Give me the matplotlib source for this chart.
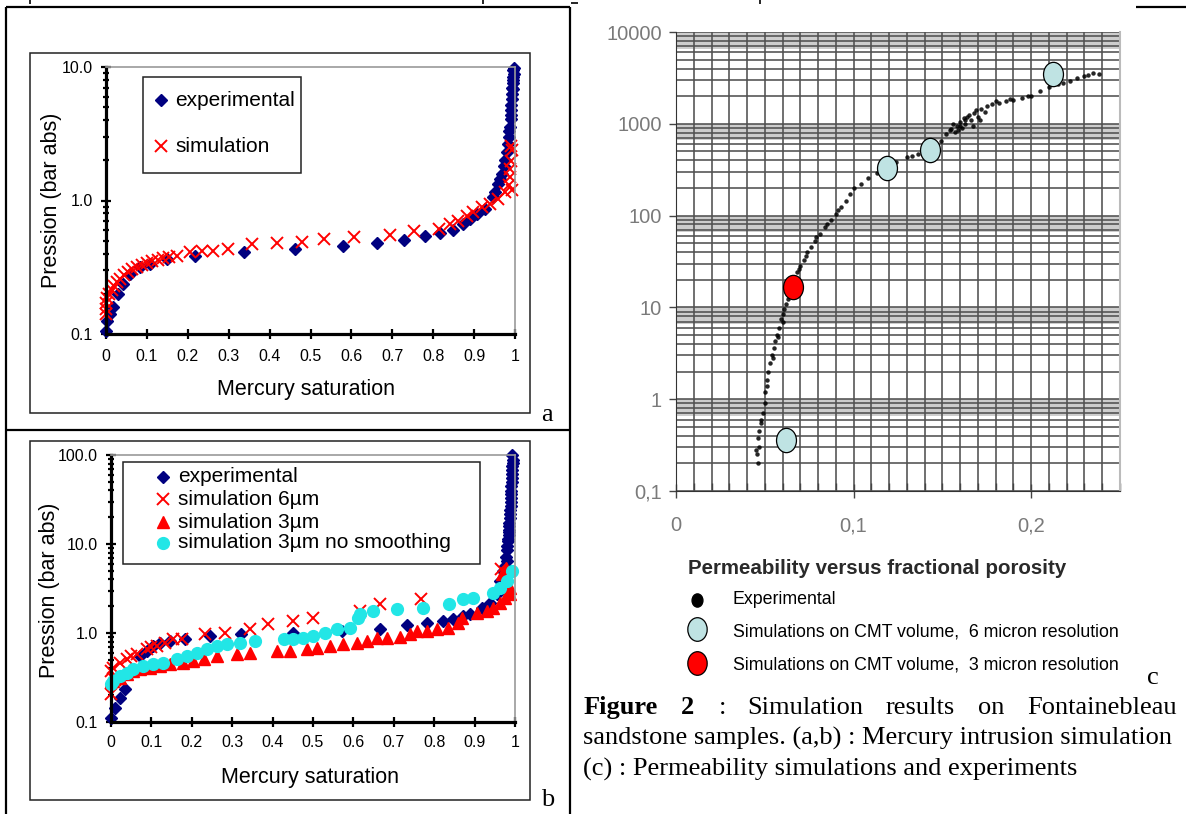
import matplotlib.pyplot as plt
import numpy as np
from matplotlib import font_manager
from matplotlib.lines import Line2D
from matplotlib.patches import Rectangle
from matplotlib.path import Path
from matplotlib.ticker import LogLocator, NullFormatter
from matplotlib.transforms import Affine2D

# ---- (a) mercury intrusion, experiment vs simulation ----
a_exp_sat = [0.0, 0.002, 0.01, 0.018, 0.03, 0.042, 0.059, 0.083, 0.108, 0.148,
             0.218, 0.337, 0.463, 0.579, 0.662, 0.729, 0.78, 0.817, 0.848, 0.874,
             0.89, 0.906, 0.927, 0.947, 0.959, 0.968, 0.976, 0.984, 0.985, 0.988,
             0.989, 0.99, 0.991, 0.992, 0.993, 0.994, 0.995, 0.996, 0.997,
             0.952, 0.963, 0.972, 0.98, 0.986, 0.99, 0.993, 0.995, 0.996, 0.997]
a_exp_p = [0.106, 0.126, 0.141, 0.158, 0.2, 0.237, 0.28, 0.316, 0.335, 0.365,
           0.386, 0.409, 0.43, 0.46, 0.478, 0.507, 0.546, 0.569, 0.603, 0.668,
           0.729, 0.794, 0.866, 1.06, 1.33, 1.59, 2.0, 2.66, 3.0, 3.55,
           4.1, 4.73, 5.2, 6.32, 7.0, 8.44, 8.0, 9.46, 9.9,
           1.15, 1.45, 1.8, 2.3, 3.3, 4.4, 5.8, 6.8, 7.6, 8.8]
a_sim_sat = [0.0, 0.0, 0.0, 0.003, 0.008, 0.014, 0.02, 0.027, 0.035, 0.044,
             0.054, 0.064, 0.075, 0.087, 0.1, 0.113, 0.126, 0.14, 0.155, 0.173,
             0.205, 0.234, 0.262, 0.299, 0.356, 0.417, 0.478, 0.533, 0.606, 0.694,
             0.753, 0.813, 0.841, 0.861, 0.882, 0.898, 0.919, 0.939, 0.959, 0.976,
             0.986, 0.988, 0.988, 0.989, 0.992, 0.989, 0.993]
a_sim_p = [0.14, 0.155, 0.17, 0.185, 0.2, 0.215, 0.23, 0.245, 0.26, 0.275,
           0.29, 0.305, 0.318, 0.33, 0.342, 0.352, 0.36, 0.37, 0.375, 0.385,
           0.41, 0.42, 0.42, 0.434, 0.473, 0.478, 0.487, 0.516, 0.53, 0.556,
           0.596, 0.613, 0.668, 0.708, 0.772, 0.817, 0.891, 0.945, 1.03, 1.15,
           1.30, 1.50, 1.73, 1.99, 2.37, 2.58, 1.2]

# ---- (b) mercury intrusion, 6 and 3 micron ----
b_exp_sat = [0.0, 0.01, 0.022, 0.035, 0.05, 0.072, 0.088, 0.104, 0.121, 0.146,
             0.183, 0.245, 0.323, 0.45, 0.571, 0.666, 0.732, 0.781, 0.821, 0.847,
             0.872, 0.889, 0.918, 0.938, 0.955, 0.963, 0.971, 0.979, 0.981, 0.983,
             0.984, 0.985, 0.986, 0.988, 0.989, 0.99, 0.99, 0.991, 0.992, 0.992,
             0.993, 0.994, 0.993, 0.975, 0.978, 0.98, 0.982, 0.984, 0.986, 0.987,
             0.988, 0.99, 0.991, 0.992, 0.993, 0.994]
b_exp_p = [0.112, 0.145, 0.188, 0.235, 0.36, 0.55, 0.63, 0.71, 0.78, 0.81,
           0.85, 0.925, 0.97, 1.0, 1.05, 1.10, 1.23, 1.31, 1.36, 1.42,
           1.55, 1.62, 1.93, 2.19, 2.72, 3.84, 4.97, 6.4, 8.5, 10.8,
           12.5, 14.5, 17, 19.8, 27, 33, 39.3, 45, 50, 60.6,
           75, 88, 100, 5.6, 7.2, 9.5, 11.5, 13.5, 16, 22,
           24, 30, 36, 55, 67, 82]
b_sim6_sat = [0.0, 0.0, 0.005, 0.01, 0.022, 0.039, 0.05, 0.064, 0.088, 0.1,
              0.113, 0.134, 0.154, 0.175, 0.233, 0.282, 0.344, 0.389, 0.45, 0.501,
              0.616, 0.667, 0.767, 0.965]
b_sim6_p = [0.206, 0.374, 0.40, 0.3, 0.464, 0.506, 0.55, 0.576, 0.655, 0.69,
            0.715, 0.778, 0.85, 0.85, 0.967, 1.01, 1.10, 1.25, 1.36, 1.49,
            1.77, 2.10, 2.39, 5.3]
b_sim3_sat = [0.0, 0.005, 0.022, 0.039, 0.055, 0.072, 0.097, 0.121, 0.146, 0.179,
              0.204, 0.229, 0.262, 0.311, 0.344, 0.41, 0.443, 0.484, 0.509, 0.542,
              0.575, 0.608, 0.633, 0.658, 0.682, 0.715, 0.74, 0.757, 0.781, 0.806,
              0.835, 0.86, 0.868, 0.905, 0.93, 0.946, 0.963, 0.975, 0.988, 0.967,
              0.977, 0.988]
b_sim3_p = [0.29, 0.29, 0.315, 0.343, 0.374, 0.39, 0.408, 0.426, 0.445, 0.464,
            0.485, 0.506, 0.551, 0.576, 0.60, 0.627, 0.627, 0.655, 0.684, 0.715,
            0.758, 0.778, 0.813, 0.87, 0.87, 0.90, 0.967, 1.05, 1.05, 1.10,
            1.15, 1.31, 1.49, 1.69, 1.77, 1.93, 2.19, 2.49, 3.23, 4.56,
            5.4, 2.74]
b_sim3ns_sat = [0.0, 0.006, 0.022, 0.039, 0.055, 0.08, 0.105, 0.129, 0.163, 0.187,
                0.212, 0.237, 0.262, 0.286, 0.319, 0.356, 0.427, 0.451, 0.476, 0.501,
                0.53, 0.559, 0.592, 0.612, 0.616, 0.649, 0.709, 0.773, 0.837, 0.872,
                0.897, 0.946, 0.963, 0.979, 0.992]
b_sim3ns_p = [0.265, 0.29, 0.329, 0.358, 0.39, 0.426, 0.445, 0.464, 0.506, 0.551,
              0.60, 0.655, 0.715, 0.758, 0.778, 0.813, 0.85, 0.85, 0.886, 0.925,
              1.01, 1.10, 1.15, 1.49, 1.62, 1.77, 1.85, 1.93, 2.13, 2.39,
              2.49, 2.84, 3.23, 3.84, 5.0]

# ---- (c) permeability vs porosity ----
c_exp_phi = [0.046, 0.045, 0.047, 0.046, 0.047, 0.048, 0.049, 0.05, 0.05, 0.051,
             0.052, 0.053, 0.054, 0.055, 0.056, 0.057, 0.058, 0.059, 0.06, 0.061,
             0.062, 0.063, 0.064, 0.066, 0.068, 0.07, 0.072, 0.074, 0.076, 0.078,
             0.081, 0.084, 0.087, 0.09, 0.093, 0.096, 0.1, 0.104, 0.108, 0.113,
             0.117, 0.124, 0.13, 0.136, 0.14, 0.145, 0.149, 0.152, 0.155, 0.157,
             0.158, 0.16, 0.161, 0.162, 0.163, 0.165, 0.166, 0.168, 0.17, 0.172,
             0.175, 0.178, 0.182, 0.186, 0.19, 0.195, 0.2, 0.205, 0.21, 0.218,
             0.226, 0.23, 0.235, 0.238, 0.156, 0.159, 0.164, 0.167, 0.169, 0.171,
             0.0455, 0.048, 0.0515, 0.0545, 0.0575, 0.0605, 0.065, 0.069, 0.073, 0.079,
             0.085, 0.091, 0.098, 0.12, 0.133, 0.154, 0.16, 0.163, 0.174, 0.18,
             0.188, 0.198, 0.215, 0.222, 0.232]
c_exp_k = [0.2, 0.28, 0.3, 0.38, 0.45, 0.55, 0.7, 0.9, 1.2, 1.6,
           2.0, 2.5, 3.0, 3.6, 4.3, 5.0, 6.0, 7.5, 8.5, 9.5,
           11, 12.5, 14, 19, 24, 28, 33, 40, 46, 53,
           63, 75, 90, 105, 125, 145, 200, 220, 260, 290,
           310, 380, 430, 470, 500, 560, 650, 780, 880, 820,
           950, 1050, 900, 1150, 1000, 1250, 1100, 1300, 1200, 1450,
           1550, 1650, 1700, 1750, 1800, 1900, 2000, 2250, 2500, 2800,
           3150, 3300, 3600, 3500, 1000, 850, 1200, 950, 1400, 1100,
           0.25, 0.6, 1.4, 2.8, 4.8, 7.0, 17, 26, 36, 58,
           80, 115, 170, 340, 450, 850, 950, 1100, 1350, 1750,
           1850, 2000, 2700, 2900, 3400]
c_sim6_phi = [0.062, 0.119, 0.143, 0.212]
c_sim6_k = [0.36, 330, 520, 3500]
c_sim3_phi = [0.066]
c_sim3_k = [16.5]

sat_ticks = np.linspace(0, 1, 11)
sat_labels = ['0', '0.1', '0.2', '0.3', '0.4', '0.5', '0.6', '0.7', '0.8', '0.9', '1']
a_ylabels = ['0.1', '1.0', '10.0']
b_ylabels = ['0.1', '1.0', '10.0', '100.0']
c_ylabels = ['0,1', '1', '10', '100', '1000', '10000']
c_xlabels = ['0', '0,1', '0,2']

W, H = 1186, 814
plt.rcParams['font.family'] = ['Liberation Sans', 'DejaVu Sans']
fig = plt.figure(figsize=(W / 100, H / 100), dpi=100)

try:
    font_manager.findfont('Liberation Sans Narrow', fallback_to_default=False)
    narrow, narrow_size = 'Liberation Sans Narrow', 15
except ValueError:
    narrow, narrow_size = 'Liberation Sans', 12.8


def fx(x):
    return x / W


def fy(y):
    return 1 - y / H


def px_axes(x0, y0, x1, y1):
    return fig.add_axes([fx(x0), fy(y1), (x1 - x0) / W, (y1 - y0) / H])


def line(x0, y0, x1, y1, lw=1.5, color='k'):
    fig.add_artist(Line2D([fx(x0), fx(x1)], [fy(y0), fy(y1)], transform=fig.transFigure,
                          lw=lw, color=color, solid_capstyle='butt'))


def box(x0, y0, x1, y1, lw=1.1, color='#222222'):
    fig.add_artist(Rectangle((fx(x0), fy(y1)), (x1 - x0) / W, (y1 - y0) / H,
                             transform=fig.transFigure, fill=False, lw=lw, edgecolor=color))


def marker(x, y, **kw):
    fig.add_artist(Line2D([fx(x)], [fy(y)], transform=fig.transFigure, ls='none', **kw))


def text(x, y, s, **kw):
    fig.text(fx(x), fy(y), s, **kw)


EXP = dict(marker='D', color='#000080', ms=6)
SIMX = dict(marker='x', color='#ff0000', ms=9, mew=1.4)
TRI = dict(marker='^', color='#ff0000', ms=9)
CYAN = dict(marker='o', color='#22e6e6', ms=8.5)


def style_mercury(ax, ylabels, xpad):
    ax.set_xlim(0, 1)
    ax.set_yscale('log')
    ax.set_ylim(0.1, 10 ** (len(ylabels) - 2))
    ax.set_xticks(sat_ticks)
    ax.set_xticklabels(sat_labels)
    ax.set_yticks([10.0 ** (i - 1) for i in range(len(ylabels))])
    ax.set_yticklabels(ylabels)
    ax.yaxis.set_minor_locator(LogLocator(base=10, subs=np.arange(2, 10)))
    ax.yaxis.set_minor_formatter(NullFormatter())
    ax.tick_params(axis='x', which='major', direction='inout', length=7, width=1.6,
                   labelsize=11.5, pad=xpad)
    ax.tick_params(axis='y', which='major', direction='inout', length=7, width=1.6,
                   labelsize=11.5, pad=6)
    ax.tick_params(axis='y', which='minor', direction='inout', length=5, width=1.6)
    for s in ('left', 'bottom'):
        ax.spines[s].set_linewidth(2.3)
        ax.spines[s].set_color('k')
    for s in ('top', 'right'):
        ax.spines[s].set_linewidth(1.2)
        ax.spines[s].set_color('#999999')


# page layout: table cells and the bottom of the previous text line
line(6, 7, 570, 7, lw=1.6)
line(6, 430, 570, 430, lw=1.6)
line(6, 7, 6, 814, lw=1.6)
line(570, 7, 570, 814, lw=1.6)
line(1136, 7, 1186, 7, lw=1.6)
for x in (30, 483, 760):
    line(x, 0, x, 4, lw=1.2)
line(571, 3, 578, 3, lw=1.2)

# ---- panel a ----
box(30, 53, 530, 413)
ax_a = px_axes(106, 67, 515, 334)
ax_a.plot(a_exp_sat, a_exp_p, ls='none', clip_on=False, **EXP)
ax_a.plot(a_sim_sat, a_sim_p, ls='none', clip_on=False, **SIMX)
style_mercury(ax_a, a_ylabels, 7)
text(52, 200, 'Pression (bar abs)', rotation=90, fontsize=15.5, ha='center', va='center')
text(306, 390, 'Mercury saturation', fontsize=15.5, ha='center', va='center')
box(143, 77, 301, 173, lw=1.1)
marker(161, 100, **EXP)
text(175, 100, 'experimental', fontsize=15, va='center')
marker(161, 146, **SIMX)
text(175, 146, 'simulation', fontsize=15, va='center')
text(547, 415, 'a', family='Liberation Serif', fontsize=19, ha='center', va='center')

# ---- panel b ----
box(30, 441, 530, 800)
ax_b = px_axes(111, 455, 515, 722)
ax_b.plot(b_exp_sat, b_exp_p, ls='none', clip_on=False, **EXP)
ax_b.plot(b_sim6_sat, b_sim6_p, ls='none', clip_on=False, **SIMX)
ax_b.plot(b_sim3_sat, b_sim3_p, ls='none', clip_on=False, **TRI)
ax_b.plot(b_sim3ns_sat, b_sim3ns_p, ls='none', clip_on=False, **CYAN)
style_mercury(ax_b, b_ylabels, 6)
text(50, 590, 'Pression (bar abs)', rotation=90, fontsize=15.5, ha='center', va='center')
text(310, 777, 'Mercury saturation', fontsize=15.5, ha='center', va='center')
box(123, 462, 480, 564, lw=1.1)
for (st, lab, y) in [(EXP, 'experimental', 477), (SIMX, 'simulation 6\u00b5m', 499),
                     (TRI, 'simulation 3\u00b5m', 522),
                     (CYAN, 'simulation 3\u00b5m no smoothing', 543)]:
    marker(163, y, **st)
    text(178, y, lab, fontsize=15, va='center')
text(548, 800, 'b', family='Liberation Serif', fontsize=19, ha='center', va='center')

# ---- panel c ----
ellipse = Path.unit_circle().transformed(Affine2D().scale(0.82, 1.0))
ax_c = px_axes(676, 32, 1120, 491)
ax_c.set_xlim(0, 0.25)
ax_c.set_yscale('log')
ax_c.set_ylim(0.1, 10000)
for d in [1, 10, 100, 1000, 10000]:
    ax_c.axhspan(d * 0.66, d, color='#cdcdcd', lw=0, zorder=0)
ax_c.set_xticks([0, 0.1, 0.2])
ax_c.set_xticklabels(c_xlabels)
ax_c.set_xticks(np.arange(0, 0.2501, 0.01), minor=True)
ax_c.set_yticks([0.1, 1, 10, 100, 1000, 10000])
ax_c.set_yticklabels(c_ylabels)
ax_c.yaxis.set_minor_locator(LogLocator(base=10, subs=np.arange(2, 10)))
ax_c.yaxis.set_minor_formatter(NullFormatter())
ax_c.set_axisbelow(True)
ax_c.grid(True, which='both', color='#505050', lw=1.15)
ax_c.tick_params(axis='x', which='major', direction='inout', length=10, width=1,
                 color='#444444', labelsize=14.5, labelcolor='#7a7a7a', pad=13)
ax_c.tick_params(axis='x', which='minor', direction='in', length=6, width=1, color='#444444')
ax_c.tick_params(axis='y', which='major', direction='out', length=5, width=1,
                 color='#444444', labelsize=14.5, labelcolor='#7a7a7a', pad=5)
ax_c.tick_params(axis='y', which='minor', length=0)
ax_c.spines['top'].set_visible(False)
ax_c.spines['right'].set_color('#bbbbbb')
ax_c.spines['right'].set_linewidth(1.5)
for s in ('left', 'bottom'):
    ax_c.spines[s].set_color('#333333')
ax_c.plot(c_exp_phi, c_exp_k, 'o', color='k', ms=3.2, alpha=0.85, mew=0, zorder=3)
ax_c.plot(c_sim6_phi, c_sim6_k, ls='none', marker=ellipse, ms=17.5, mfc='#bfe3e3',
          mec='k', mew=0.9, zorder=5, clip_on=False)
ax_c.plot(c_sim3_phi, c_sim3_k, ls='none', marker=ellipse, ms=17.5, mfc='#ff0000',
          mec='k', mew=0.9, zorder=5)

text(877, 568, 'Permeability versus fractional porosity', fontsize=14.8,
     fontweight='bold', color='#2a2a2a', ha='center', va='center')
marker(697, 600, marker=ellipse, ms=9.5, color='k')
text(733, 600, 'Experimental', family=narrow, fontsize=narrow_size, va='center')
marker(697, 629, marker=ellipse, ms=17, mfc='#bfe3e3', mec='k', mew=0.9)
text(733, 632, 'Simulations on CMT volume,  6 micron resolution', family=narrow,
     fontsize=narrow_size, va='center')
marker(697, 663, marker=ellipse, ms=17, mfc='#ff0000', mec='k', mew=0.9)
text(733, 665, 'Simulations on CMT volume,  3 micron resolution', family=narrow,
     fontsize=narrow_size, va='center')
text(1153, 678, 'c', family='Liberation Serif', fontsize=19, ha='center', va='center')

# caption, first line justified word by word
for s, x, bold in [('Figure', 584, True), ('2', 681, True), (':', 719, False),
                   ('Simulation', 747, False), ('results', 886, False), ('on', 978, False),
                   ('Fontainebleau', 1027, False)]:
    text(x, 714, s, family='Liberation Serif', fontsize=19, va='baseline',
         fontweight='bold' if bold else 'normal')
text(583, 745, 'sandstone samples. (a,b) : Mercury intrusion simulation',
     family='Liberation Serif', fontsize=19, va='baseline')
text(583, 776, '(c) : Permeability simulations and experiments',
     family='Liberation Serif', fontsize=19, va='baseline')

plt.savefig('out.png', dpi=100)
